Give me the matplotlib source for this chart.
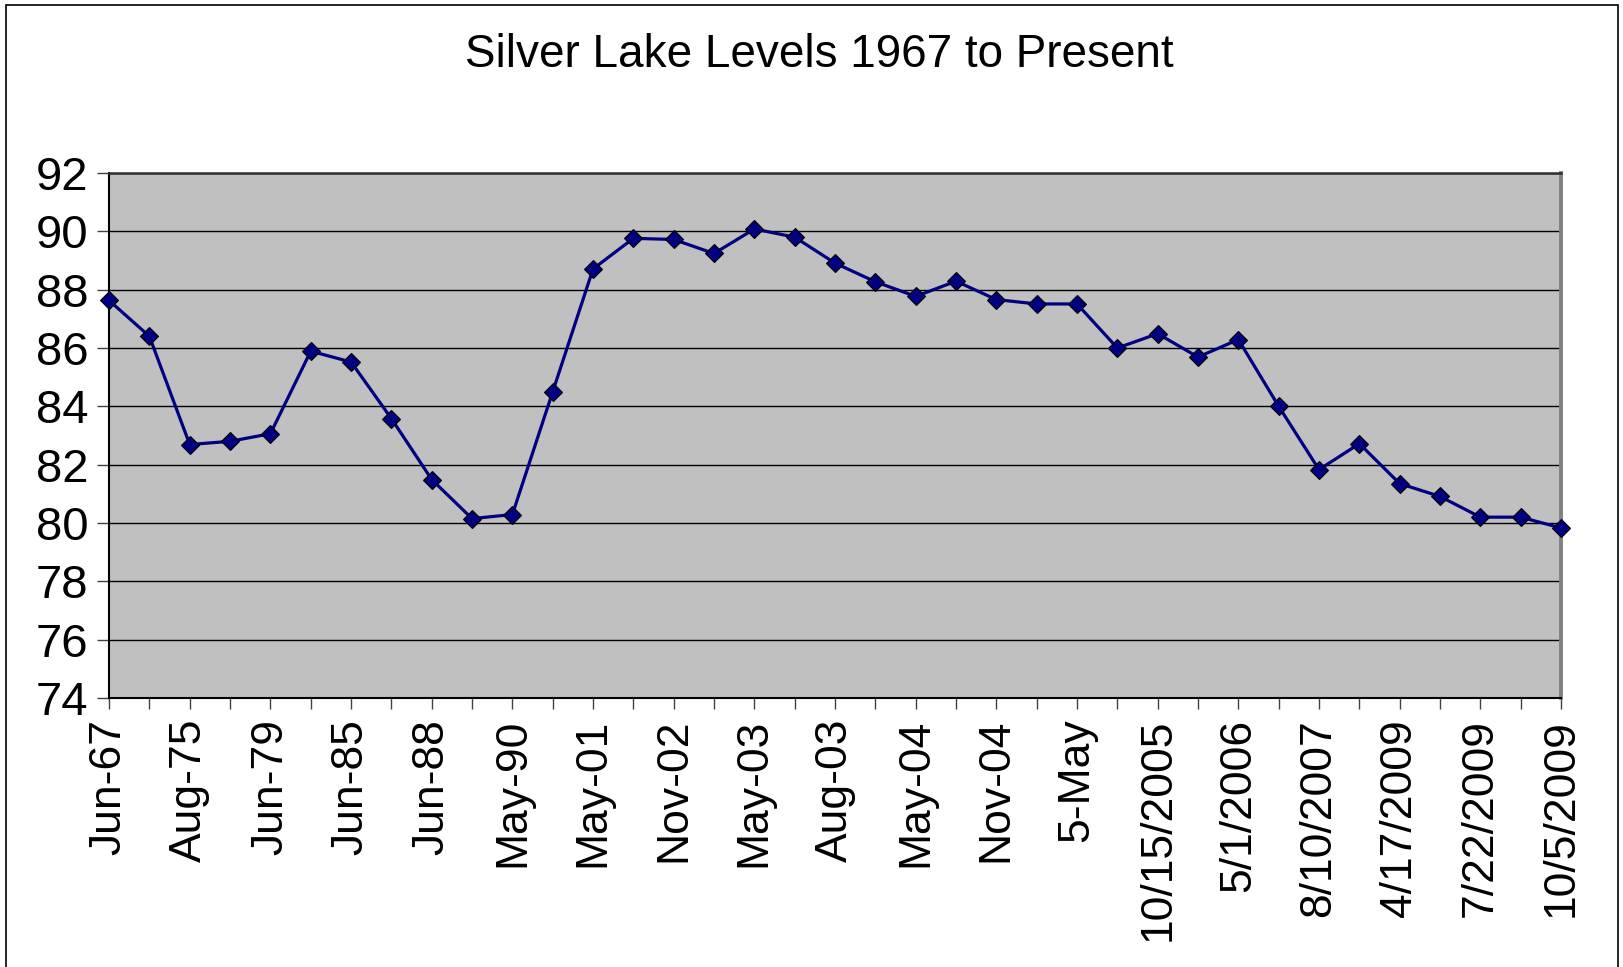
import matplotlib.pyplot as plt
from matplotlib.patches import Rectangle
import numpy as np

plt.rcParams['font.family'] = ['Liberation Sans', 'DejaVu Sans']

# lake level readings (one per survey date, in chart order)
levels = [87.63, 86.40, 82.69, 82.80, 83.06, 85.89, 85.52, 83.58, 81.49, 80.15,
          80.29, 84.50, 88.71, 89.76, 89.72, 89.24, 90.08, 89.80, 88.91, 88.27,
          87.77, 88.29, 87.66, 87.51, 87.51, 86.00, 86.49, 85.69, 86.29, 84.00,
          81.83, 82.72, 81.35, 80.91, 80.20, 80.20, 79.83]

# Excel only shows every other category label
tick_labels = ['Jun-67', 'Aug-75', 'Jun-79', 'Jun-85', 'Jun-88', 'May-90',
               'May-01', 'Nov-02', 'May-03', 'Aug-03', 'May-04', 'Nov-04',
               '5-May', '10/15/2005', '5/1/2006', '8/10/2007', '4/17/2009',
               '7/22/2009', '10/5/2009']

y_ticks = [74, 76, 78, 80, 82, 84, 86, 88, 90, 92]

x = np.arange(len(levels))

fig = plt.figure(figsize=(16.23, 9.67), dpi=100)
ax = fig.add_axes([0.0672, 0.2782, 0.8946, 0.5429])
ax.set_facecolor('#C0C0C0')

ax.plot(x, levels, color='#000080', lw=2.3, marker='D', ms=9,
        mfc='#000080', mec='black', mew=0.8, zorder=3, clip_on=False)

ax.set_xlim(0, len(levels) - 1)
ax.set_ylim(74, 92)
ax.set_yticks(y_ticks)
ax.set_yticklabels([str(v) for v in y_ticks], fontsize=34)

ax.set_xticks(x)
labels = [''] * len(x)
labels[::2] = tick_labels
ax.set_xticklabels(labels, rotation=90, fontsize=32)

ax.tick_params(axis='y', length=9, width=1, pad=6, direction='out', color='#404040')
ax.tick_params(axis='x', length=8, width=1, pad=7, direction='out', color='#404040')

ax.grid(True, axis='y', color='black', lw=1.0)
ax.set_axisbelow(True)

ax.spines['left'].set_color('black')
ax.spines['left'].set_linewidth(1.5)
ax.spines['bottom'].set_color('black')
ax.spines['bottom'].set_linewidth(1.5)
ax.spines['top'].set_color('#303030')
ax.spines['top'].set_linewidth(1.8)
ax.spines['right'].set_color('#808080')
ax.spines['right'].set_linewidth(2.8)

fig.text(0.5046, 0.943, 'Silver Lake Levels 1967 to Present', fontsize=33,
         ha='center', va='center')

# outer chart border (bottom edge runs off the image)
fig.patches.append(Rectangle((6 / 1623, -0.05), 1612 / 1623, 1.05 - 5 / 967,
                             transform=fig.transFigure, fill=False,
                             ec='black', lw=1.2))

fig.savefig('out.png', dpi=100)
